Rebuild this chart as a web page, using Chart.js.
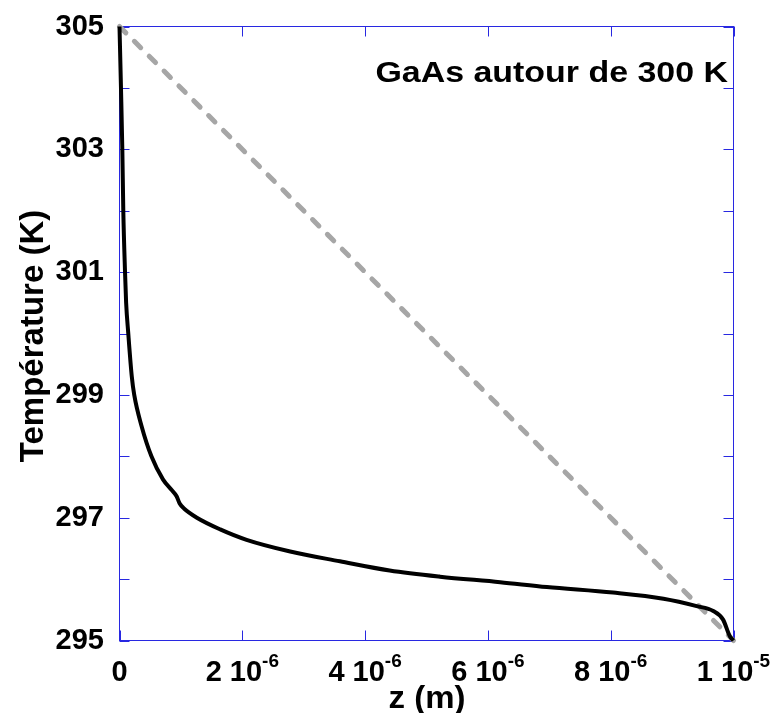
<!DOCTYPE html>
<html>
<head>
<meta charset="utf-8">
<script src="https://cdn.jsdelivr.net/npm/chart.js@4.4.1/dist/chart.umd.min.js"></script>
<style>
  html, body { margin: 0; padding: 0; background: #ffffff; }
  #wrap { width: 773px; height: 713px; }
</style>
</head>
<body>
<div id="wrap"><canvas id="chart" width="773" height="713"></canvas></div>
<script>
// Temperature profile through the GaAs layer (z in metres, T in kelvin)
const zProfile = [
  0, 0.024e-6, 0.046e-6, 0.062e-6, 0.09e-6, 0.108e-6, 0.143e-6, 0.20e-6, 0.24e-6,
  0.36e-6, 0.52e-6, 0.71e-6, 0.85e-6, 0.93e-6, 0.98e-6, 1.05e-6, 1.26e-6, 1.64e-6,
  2.07e-6, 2.78e-6, 3.59e-6, 4.40e-6, 5.22e-6, 6.20e-6, 6.96e-6, 8.04e-6, 8.86e-6,
  9.40e-6, 9.67e-6, 9.83e-6, 9.94e-6, 1.0e-5
];
const tProfile = [
  305, 304, 303, 302, 301, 300.5, 300, 299.3, 299,
  298.49, 298.0, 297.62, 297.45, 297.35, 297.23, 297.15, 297.0, 296.81,
  296.64, 296.45, 296.29, 296.14, 296.04, 295.95, 295.87, 295.78, 295.68,
  295.56, 295.48, 295.34, 295.07, 295.0
];

// Linear profile between the two boundary temperatures
const zLinear = [0, 1e-5];
const tLinear = [305, 295];

// Axis ticks
const xTickValues = [0, 2e-6, 4e-6, 6e-6, 8e-6, 1e-5];
const xTickMantissa = ['0', '2 10', '4 10', '6 10', '8 10', '1 10'];
const xTickExponent = ['', '-6', '-6', '-6', '-6', '-5'];
const yTickValues = [295, 296, 297, 298, 299, 300, 301, 302, 303, 304, 305];
const yTickLabels = ['295', '', '297', '', '299', '', '301', '', '303', '', '305'];

const titleText = 'GaAs autour de 300 K';
const xTitle = 'z (m)';
const yTitle = 'Température (K)';

const FRAME = 'rgb(40,40,225)';
const FONT = "'Liberation Sans', Arial, sans-serif";

function toPoints(xs, ys) {
  return xs.map((x, i) => ({ x: x, y: ys[i] }));
}

function textScaled(ctx, str, x, y, align, sx) {
  ctx.save();
  ctx.translate(x, y);
  ctx.scale(sx, 1);
  ctx.textAlign = align;
  ctx.fillText(str, 0, 0);
  ctx.restore();
}

// Box frame with inward ticks on all four sides
const framePlugin = {
  id: 'frame',
  beforeDatasetsDraw(chart) {
    const { ctx, chartArea: a, scales } = chart;
    ctx.save();
    ctx.strokeStyle = FRAME;
    ctx.lineWidth = 1;
    ctx.strokeRect(a.left, a.top, a.right - a.left, a.bottom - a.top);
    ctx.beginPath();
    const tl = 10;
    yTickValues.forEach(v => {
      const py = Math.round(scales.y.getPixelForValue(v)) + 0.5;
      ctx.moveTo(a.left, py); ctx.lineTo(a.left + tl, py);
      ctx.moveTo(a.right, py); ctx.lineTo(a.right - tl, py);
    });
    xTickValues.forEach(v => {
      const px = Math.round(scales.x.getPixelForValue(v)) + 0.5;
      ctx.moveTo(px, a.bottom); ctx.lineTo(px, a.bottom - tl);
      ctx.moveTo(px, a.top); ctx.lineTo(px, a.top + tl);
    });
    ctx.stroke();
    ctx.restore();
  },
  afterDraw(chart) {
    const { ctx, scales } = chart;
    ctx.save();
    ctx.fillStyle = '#000000';
    ctx.textBaseline = 'alphabetic';

    // y tick labels
    ctx.font = 'bold 29px ' + FONT;
    yTickValues.forEach((v, i) => {
      if (!yTickLabels[i]) return;
      const py = scales.y.getPixelForValue(v);
      textScaled(ctx, yTickLabels[i], 104, py + 8, 'right', 1);
    });

    // x tick labels with exponent
    xTickValues.forEach((v, i) => {
      const px = scales.x.getPixelForValue(v);
      ctx.font = 'bold 29px ' + FONT;
      const wm = ctx.measureText(xTickMantissa[i]).width;
      ctx.font = 'bold 19px ' + FONT;
      const we = xTickExponent[i] ? ctx.measureText(xTickExponent[i]).width : 0;
      const start = px - (wm + we) / 2;
      ctx.font = 'bold 29px ' + FONT;
      textScaled(ctx, xTickMantissa[i], start, 681, 'left', 1);
      if (xTickExponent[i]) {
        ctx.font = 'bold 19px ' + FONT;
        textScaled(ctx, xTickExponent[i], start + wm, 667, 'left', 1);
      }
    });

    // axis titles
    ctx.font = 'bold 32px ' + FONT;
    textScaled(ctx, xTitle, 427, 708, 'center', 1.03);
    ctx.save();
    ctx.translate(43, 336);
    ctx.rotate(-Math.PI / 2);
    ctx.font = 'bold 33px ' + FONT;
    ctx.textAlign = 'center';
    ctx.fillText(yTitle, 0, 0);
    ctx.restore();

    // caption inside the plot
    ctx.font = 'bold 29px ' + FONT;
    textScaled(ctx, titleText, 728, 82, 'right', 1.17);
    ctx.restore();
  }
};

new Chart(document.getElementById('chart'), {
  type: 'line',
  data: {
    datasets: [
      {
        data: toPoints(zProfile, tProfile),
        borderColor: '#000000',
        borderWidth: 4,
        pointRadius: 0,
        cubicInterpolationMode: 'monotone',
        clip: false,
        order: 0
      },
      {
        data: toPoints(zLinear, tLinear),
        borderColor: '#a6a6a6',
        borderWidth: 5,
        borderDash: [9, 12],
        borderCapStyle: 'round',
        pointRadius: 0,
        clip: false,
        order: 1
      }
    ]
  },
  options: {
    responsive: false,
    animation: false,
    layout: { padding: { left: 119.5, right: 39.5, top: 26.5, bottom: 72.5 } },
    plugins: { legend: { display: false }, tooltip: { enabled: false } },
    scales: {
      x: { type: 'linear', min: 0, max: 1e-5, display: false },
      y: { type: 'linear', min: 295, max: 305, display: false }
    }
  },
  plugins: [framePlugin]
});
</script>
</body>
</html>
